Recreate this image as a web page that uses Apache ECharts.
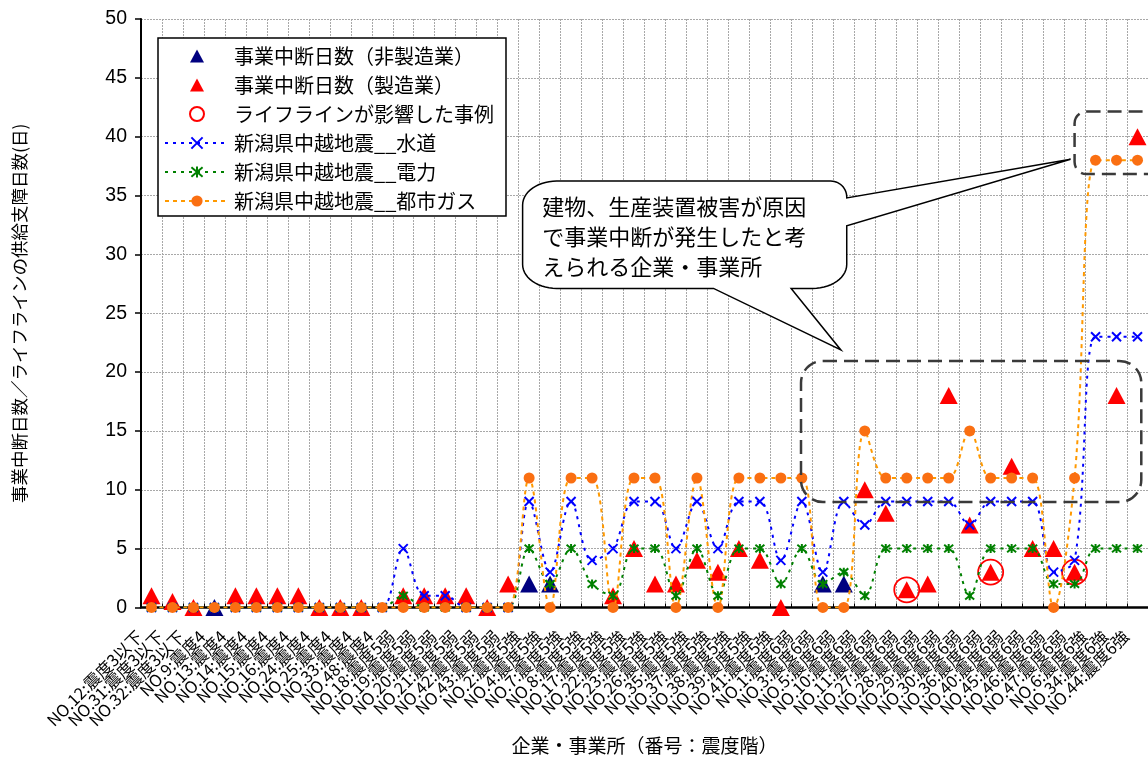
<!DOCTYPE html>
<html>
<head>
<meta charset="utf-8">
<script src="https://cdn.jsdelivr.net/npm/echarts@6/dist/echarts.min.js"></script>
<style>
  html, body { margin: 0; padding: 0; background: #fff; }
  #chart { width: 1148px; height: 760px; }
</style>
</head>
<body>
<div id="chart"></div>
<script>
// 企業・事業所（番号:震度階）
const categories = [
  'NO.12:震度3以下', 'NO.31:震度3以下', 'NO.32:震度3以下',
  'NO.9:震度4', 'NO.13:震度4', 'NO.14:震度4', 'NO.15:震度4', 'NO.16:震度4',
  'NO.24:震度4', 'NO.25:震度4', 'NO.33:震度4', 'NO.48:震度4',
  'NO.18:震度5弱', 'NO.19:震度5弱', 'NO.20:震度5弱', 'NO.21:震度5弱', 'NO.42:震度5弱', 'NO.43:震度5弱',
  'NO.2:震度5強', 'NO.4:震度5強', 'NO.7:震度5強', 'NO.8:震度5強', 'NO.17:震度5強', 'NO.22:震度5強',
  'NO.23:震度5強', 'NO.26:震度5強', 'NO.35:震度5強', 'NO.37:震度5強', 'NO.38:震度5強', 'NO.39:震度5強',
  'NO.41:震度5強',
  'NO.1:震度6弱', 'NO.3:震度6弱', 'NO.5:震度6弱', 'NO.10:震度6弱', 'NO.11:震度6弱', 'NO.27:震度6弱',
  'NO.28:震度6弱', 'NO.29:震度6弱', 'NO.30:震度6弱', 'NO.36:震度6弱', 'NO.40:震度6弱', 'NO.45:震度6弱',
  'NO.46:震度6弱', 'NO.47:震度6弱',
  'NO.6:震度6強', 'NO.34:震度6強', 'NO.44:震度6強'
];

// 事業中断日数（非製造業）
const daysNonMfg = [
  null, null, null, 0, null, null, null, null, null, null,
  null, null, null, null, null, null, null, null, 2, 2,
  null, null, null, null, null, null, null, null, null, null,
  null, null, 2, 2, null, null, null, null, null, null,
  null, null, null, null, null, null, null, null
];

// 事業中断日数（製造業）
const daysMfg = [
  1, 0.5, 0, null, 1, 1, 1, 1, 0, 0,
  0, null, 1, 1, 1, 1, 0, 2, null, null,
  null, null, 1, 5, 2, 2, 4, 3, 5, 4,
  0, null, null, null, 10, 8, 1.5, 2, 18, 7,
  3, 12, 5, 5, 3, null, 18, 40
];

// ライフラインが影響した事例
const lifelineCases = [
  null, null, null, null, null, null, null, null, null, null,
  null, null, null, null, null, null, null, null, null, null,
  null, null, null, null, null, null, null, null, null, null,
  null, null, null, null, null, null, 1.5, null, null, null,
  3, null, null, null, 3, null, null, null
];

// 新潟県中越地震 供給支障日数：水道
const water = [
  0, 0, 0, 0, 0, 0, 0, 0, 0, 0,
  0, 0, 5, 1, 1, 0, 0, 0, 9, 3,
  9, 4, 5, 9, 9, 5, 9, 5, 9, 9,
  4, 9, 3, 9, 7, 9, 9, 9, 9, 7,
  9, 9, 9, 3, 4, 23, 23, 23
];

// 電力
const power = [
  0, 0, 0, 0, 0, 0, 0, 0, 0, 0,
  0, 0, 1, 0, 0, 0, 0, 0, 5, 2,
  5, 2, 1, 5, 5, 1, 5, 1, 5, 5,
  2, 5, 2, 3, 1, 5, 5, 5, 5, 1,
  5, 5, 5, 2, 2, 5, 5, 5
];

// 都市ガス
const cityGas = [
  0, 0, 0, 0, 0, 0, 0, 0, 0, 0,
  0, 0, 0, 0, 0, 0, 0, 0, 11, 0,
  11, 11, 0, 11, 11, 0, 11, 0, 11, 11,
  11, 11, 0, 0, 15, 11, 11, 11, 11, 15,
  11, 11, 11, 0, 11, 38, 38, 38
];

const seriesNames = [
  '事業中断日数（非製造業）',
  '事業中断日数（製造業）',
  'ライフラインが影響した事例',
  '新潟県中越地震__水道',
  '新潟県中越地震__電力',
  '新潟県中越地震__都市ガス'
];

const JP = '"Noto Sans CJK JP", "Noto Sans", sans-serif';
const gridColor = '#a8a8a8';

const crossSymbol = 'path://M0,0L10,10M10,0L0,10';
const starSymbol = 'path://M0,0L10,10M10,0L0,10M5,-1L5,11';
// legend icon: small triangle centred in a 64x14 box (the leading moves fix the box size)
const legendTriangle = 'path://M0,0M64,14M25,13.5L32,0.5L39,13.5Z';

const chart = echarts.init(document.getElementById('chart'), null, { renderer: 'canvas' });

const option = {
  animation: false,
  backgroundColor: '#fff',
  grid: { left: 141, top: 19, width: 1012, height: 592, containLabel: false },
  xAxis: {
    type: 'category',
    data: categories,
    boundaryGap: true,
    name: '企業・事業所（番号：震度階）',
    nameLocation: 'middle',
    nameGap: 128,
    nameTextStyle: { fontSize: 19, fontFamily: JP, color: '#000' },
    axisLine: { lineStyle: { color: '#000', width: 2.5 } },
    axisTick: { show: true, inside: true, length: 4, lineStyle: { color: '#000', width: 1 } },
    axisLabel: {
      interval: 0, rotate: 45, margin: 14, fontSize: 16.5, fontFamily: JP, color: '#000',
      padding: [0, 17, 0, 0]
    },
    splitLine: { show: true, lineStyle: { color: gridColor, type: [2, 1], width: 1 } }
  },
  yAxis: {
    type: 'value',
    min: 0, max: 50, interval: 5,
    name: '事業中断日数／ライフラインの供給支障日数(日)',
    nameLocation: 'middle',
    nameRotate: 90,
    nameGap: 113,
    nameTextStyle: { fontSize: 17.5, fontFamily: JP, color: '#000' },
    axisLine: { show: true, lineStyle: { color: '#000', width: 2 } },
    axisTick: { show: true, length: 6, lineStyle: { color: '#000', width: 1.5 } },
    axisLabel: { fontSize: 19.5, fontFamily: '"Liberation Sans", Arial, sans-serif', color: '#000', margin: 14 },
    splitLine: { show: true, lineStyle: { color: gridColor, type: [2, 1], width: 1 } }
  },
  legend: {
    orient: 'vertical',
    left: 158, top: 38,
    itemWidth: 64, itemHeight: 14, itemGap: 9,
    padding: [8, 12, 5, 6],
    borderColor: '#000', borderWidth: 1.5, backgroundColor: '#fff',
    textStyle: { fontSize: 20, fontFamily: JP, color: '#000' },
    data: [
      { name: seriesNames[0], icon: legendTriangle },
      { name: seriesNames[1], icon: legendTriangle },
      seriesNames[2], seriesNames[3], seriesNames[4], seriesNames[5]
    ]
  },
  series: [
    {
      name: seriesNames[0], type: 'scatter', data: daysNonMfg,
      symbol: 'triangle', symbolSize: [18, 17],
      itemStyle: { color: '#000080', opacity: 1 }
    },
    {
      name: seriesNames[1], type: 'scatter', data: daysMfg,
      symbol: 'triangle', symbolSize: [18, 17],
      itemStyle: { color: '#ff0000', opacity: 1 }
    },
    {
      name: seriesNames[2], type: 'scatter', data: lifelineCases,
      symbol: 'circle', symbolSize: 25,
      itemStyle: { color: 'rgba(0,0,0,0)', borderColor: '#ff0000', borderWidth: 1.8, opacity: 1 }
    },
    {
      name: seriesNames[3], type: 'line', data: water, smooth: 0.35,
      symbol: crossSymbol, symbolSize: 9,
      lineStyle: { color: '#0000ff', width: 2, type: [3, 5] },
      itemStyle: { color: '#0000ff', borderColor: '#0000ff', borderWidth: 2 }
    },
    {
      name: seriesNames[4], type: 'line', data: power, smooth: 0.35,
      symbol: starSymbol, symbolSize: 9,
      lineStyle: { color: '#008000', width: 2, type: [3, 5] },
      itemStyle: { color: '#008000', borderColor: '#008000', borderWidth: 2 }
    },
    {
      name: seriesNames[5], type: 'line', data: cityGas, smooth: 0.35,
      symbol: 'circle', symbolSize: 11,
      lineStyle: { color: '#ff9900', width: 2, type: [4, 4] },
      itemStyle: { color: '#fa6f12', borderWidth: 0 }
    }
  ]
};

chart.setOption(option);

// Annotation shapes placed in data units (category index, value)
const p0 = chart.convertToPixel({ gridIndex: 0 }, [0, 0]);
const p1 = chart.convertToPixel({ gridIndex: 0 }, [1, 10]);
const toPx = (ci, v) => [p0[0] + (p1[0] - p0[0]) * ci, p0[1] + (p1[1] - p0[1]) * v / 10];

function roundBox(ci0, v0, ci1, v1, r) {
  const a = toPx(ci0, v0), b = toPx(ci1, v1);
  return {
    type: 'rect', z: 100,
    shape: { x: a[0], y: b[1], width: b[0] - a[0], height: a[1] - b[1], r: r },
    style: { fill: null, stroke: '#3a3a3a', lineWidth: 2.5, lineDash: [14, 7] }
  };
}

function bubble() {
  const tl = toPx(17.69, 36.23), br = toPx(33.14, 27.11);
  const L = tl[0], T = tl[1], R = br[0], B = br[1];
  const rx = 34, ry = 24, rTR = 16;
  const rightTail = [toPx(0, 34.8)[1], toPx(43.81, 38.09), toPx(0, 32.43)[1]];
  const bottomTail = [toPx(30.49, 0)[0], toPx(32.86, 21.88), toPx(26.79, 0)[0]];
  const pts = [];
  const arc = (cx, cy, ax, ay, a0, a1) => {
    for (let k = 0; k <= 14; k++) {
      const a = a0 + (a1 - a0) * k / 14;
      pts.push([cx + ax * Math.cos(a), cy + ay * Math.sin(a)]);
    }
  };
  arc(L + rx, T + ry, rx, ry, Math.PI, 1.5 * Math.PI);
  arc(R - rTR, T + rTR, rTR, rTR, 1.5 * Math.PI, 2 * Math.PI);
  pts.push([R, rightTail[0]], rightTail[1], [R, rightTail[2]]);
  arc(R - rx, B - ry, rx, ry, 0, 0.5 * Math.PI);
  pts.push([bottomTail[0], B], bottomTail[1], [bottomTail[2], B]);
  arc(L + rx, B - ry, rx, ry, 0.5 * Math.PI, Math.PI);
  const textPos = toPx(18.63, 35.3);
  return [
    {
      type: 'polygon', z: 100,
      shape: { points: pts },
      style: { fill: '#fff', stroke: '#000', lineWidth: 1.5 }
    },
    {
      type: 'text', z: 101,
      x: textPos[0], y: textPos[1],
      style: {
        text: '建物、生産装置被害が原因\nで事業中断が発生したと考\nえられる企業・事業所',
        fontSize: 22, fontFamily: JP, fill: '#000', lineHeight: 30,
        verticalAlign: 'top', align: 'left'
      }
    }
  ];
}

chart.setOption({
  graphic: [
    roundBox(30.96, 8.95, 47.18, 20.95, 22),
    roundBox(44.0, 36.82, 48.03, 42.15, 12),
    ...bubble()
  ]
});
</script>
</body>
</html>
